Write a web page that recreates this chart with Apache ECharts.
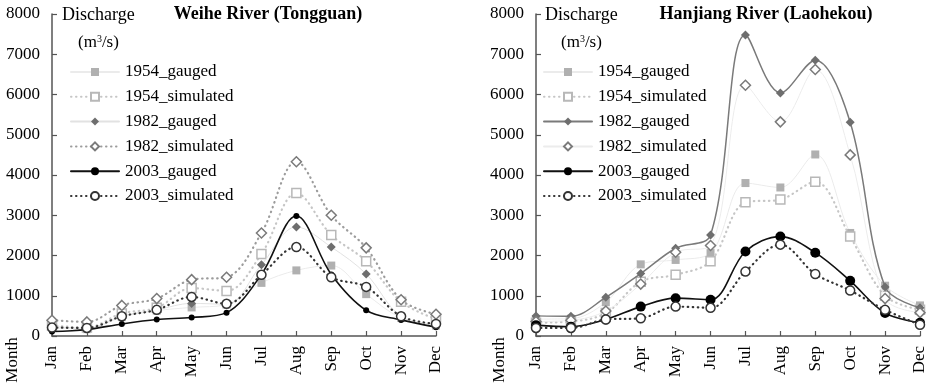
<!DOCTYPE html>
<html>
<head>
<meta charset="utf-8">
<script src="https://cdn.jsdelivr.net/npm/echarts@6/dist/echarts.min.js"></script>
<style>html,body{margin:0;padding:0;background:#fff}#c{width:929px;height:387px}</style>
</head>
<body>
<div id="c"></div>
<script>
const months = ['Jan','Feb','Mar','Apr','May','Jun','Jul','Aug','Sep','Oct','Nov','Dec'];
const seriesNames = ['1954_gauged','1954_simulated','1982_gauged','1982_simulated','2003_gauged','2003_simulated'];
const yTicks = [0,1000,2000,3000,4000,5000,6000,7000,8000];
const titleLeft = 'Weihe River (Tongguan)';
const titleRight = 'Hanjiang River (Laohekou)';

// Weihe River (Tongguan)
const weihe_1954_gauged    = [200,170,470,630,710,780,1320,1630,1750,1040,450,260];
const weihe_1954_simulated = [260,210,560,700,1190,1120,2040,3550,2510,1860,850,420];
const weihe_1982_gauged    = [240,190,500,650,810,790,1770,2710,2210,1540,480,300];
const weihe_1982_simulated = [390,350,760,930,1400,1460,2560,4330,3000,2190,900,540];
const weihe_2003_gauged    = [110,160,300,410,460,580,1530,2980,1530,640,400,220];
const weihe_2003_simulated = [210,200,490,650,970,800,1520,2210,1460,1220,490,300];

// Hanjiang River (Laohekou)
const han_1954_gauged    = [420,430,840,1780,1890,2060,3800,3690,4510,2560,1250,760];
const han_1954_simulated = [330,360,570,1350,1520,1860,3320,3390,3830,2470,1000,650];
const han_1982_gauged    = [500,490,960,1550,2180,2510,7480,6040,6850,5310,1220,700];
const han_1982_simulated = [360,390,620,1290,2080,2250,6230,5320,6620,4500,930,580];
const han_2003_gauged    = [270,230,410,730,940,900,2100,2470,2070,1370,570,330];
const han_2003_simulated = [200,200,410,440,730,700,1600,2270,1540,1130,650,280];

const FONT = '"Liberation Serif","Times New Roman",serif';
const chart = echarts.init(document.getElementById('c'), null, {renderer:'canvas'});
const DOT = [0.5,4.5];

function styles(right){
  return [
    {sym:'rect', size:8, mcol:'#b0b0b0', fill:true, lcol:'#ebebeb', lw:1, ltype:'solid'},
    {sym:'rect', size:9, mcol:'#b8b8b8', fill:false, lcol:'#c6c6c6', lw:2.2, ltype:DOT},
    {sym:'diamond', size:9, mcol:'#6e6e6e', fill:true, lcol: right ? '#7a7a7a' : '#e2e2e2', lw: right ? 1.5 : 1, ltype:'solid'},
    {sym:'diamond', size:10, mcol:'#7a7a7a', fill:false, lcol: right ? '#ececec' : '#9c9c9c', lw: right ? 1 : 2.2, ltype: right ? 'solid' : DOT},
    {sym:'circle', size: right ? 10 : 6, mcol:'#000', fill:true, lcol:'#111', lw:1.6, ltype:'solid'},
    {sym:'circle', size:9, mcol:'#333', fill:false, lcol:'#333', lw:2.2, ltype:DOT}
  ];
}

function makeSeries(idx, data, prefix){
  const st = styles(idx===1);
  return data.map((d,i)=>({
    name: prefix + seriesNames[i],
    type:'line',
    xAxisIndex: idx, yAxisIndex: idx,
    data: d,
    smooth: 0.35,
    symbol: st[i].sym,
    symbolSize: st[i].size,
    showSymbol: true,
    z: 2 + i,
    itemStyle: st[i].fill ? {color: st[i].mcol} : {color:'#fff', borderColor: st[i].mcol, borderWidth: 1.5},
    lineStyle: {color: st[i].lcol, width: st[i].lw, type: st[i].ltype, cap:'round'},
    emphasis: {disabled:true},
    animation:false
  }));
}

const leftData = [weihe_1954_gauged, weihe_1954_simulated, weihe_1982_gauged, weihe_1982_simulated, weihe_2003_gauged, weihe_2003_simulated];
const rightData = [han_1954_gauged, han_1954_simulated, han_1982_gauged, han_1982_simulated, han_2003_gauged, han_2003_simulated];

const grids = [
  {left:52, top:14, width:384, height:322},
  {left:536, top:14, width:384, height:322}
];

function xAxis(i){
  return {
    type:'category', gridIndex:i, data: months, boundaryGap:false,
    axisLine:{lineStyle:{color:'#555', width:1.5}},
    axisTick:{inside:true, length:5, alignWithLabel:true, lineStyle:{color:'#555', width:1.2}},
    axisLabel:{rotate:90, interval:0, margin:10, color:'#000', fontFamily:FONT, fontSize:17}
  };
}
function yAxis(i){
  return {
    type:'value', gridIndex:i, min:yTicks[0], max:yTicks[yTicks.length-1], interval:1000,
    axisLine:{show:true, lineStyle:{color:'#555', width:1.5}},
    axisTick:{show:true, inside:true, length:5, lineStyle:{color:'#555', width:1.2}},
    splitLine:{show:false},
    axisLabel:{margin:12, color:'#000', fontFamily:FONT, fontSize:17, formatter: v => String(v)}
  };
}

function legend(i, left, prefix){
  return {
    show:true, orient:'vertical', left:left, top:63, padding:0,
    itemWidth:48, itemHeight:10, itemGap:6.8,
    selectedMode:false,
    data: seriesNames.map(n=>prefix+n),
    formatter: n => n.replace(prefix,''),
    textStyle:{fontFamily:FONT, fontSize:17, color:'#000', lineHeight:18, padding:[0,0,0,1]}
  };
}

function txt(x,y,text,opt){
  return Object.assign({type:'text', x:x, y:y, z:100, style:Object.assign({text:text, fill:'#000', font:'17px '+FONT, textAlign:'left', textVerticalAlign:'middle'}, opt||{})});
}

const graphics = [
  txt(268,14,titleLeft,{font:'bold 18px '+FONT, textAlign:'center'}),
  txt(766,14,titleRight,{font:'bold 18px '+FONT, textAlign:'center'}),
  txt(62,15,'Discharge',{font:'18px '+FONT}),
  txt(545,15,'Discharge',{font:'18px '+FONT}),
  {type:'text', x:78, y:43, z:100, style:{text:'(m{s|3}/s)', fill:'#000', font:'17px '+FONT, textVerticalAlign:'middle', rich:{s:{fontSize:10, fontFamily:FONT, verticalAlign:'top', padding:[0,0,8,0]}}}},
  {type:'text', x:561, y:43, z:100, style:{text:'(m{s|3}/s)', fill:'#000', font:'17px '+FONT, textVerticalAlign:'middle', rich:{s:{fontSize:10, fontFamily:FONT, verticalAlign:'top', padding:[0,0,8,0]}}}},
  {type:'text', x:13, y:360, rotation:Math.PI/2, z:100, style:{text:'Month', fill:'#000', font:'17px '+FONT, textAlign:'center', textVerticalAlign:'middle'}},
  {type:'text', x:500, y:360, rotation:Math.PI/2, z:100, style:{text:'Month', fill:'#000', font:'17px '+FONT, textAlign:'center', textVerticalAlign:'middle'}}
];

chart.setOption({
  animation:false,
  backgroundColor:'#fff',
  textStyle:{fontFamily:FONT},
  grid: grids,
  xAxis:[xAxis(0), xAxis(1)],
  yAxis:[yAxis(0), yAxis(1)],
  legend:[legend(0,70,'L:'), legend(1,543,'R:')],
  graphic: graphics,
  series: makeSeries(0,leftData,'L:').concat(makeSeries(1,rightData,'R:'))
});
</script>
</body>
</html>
